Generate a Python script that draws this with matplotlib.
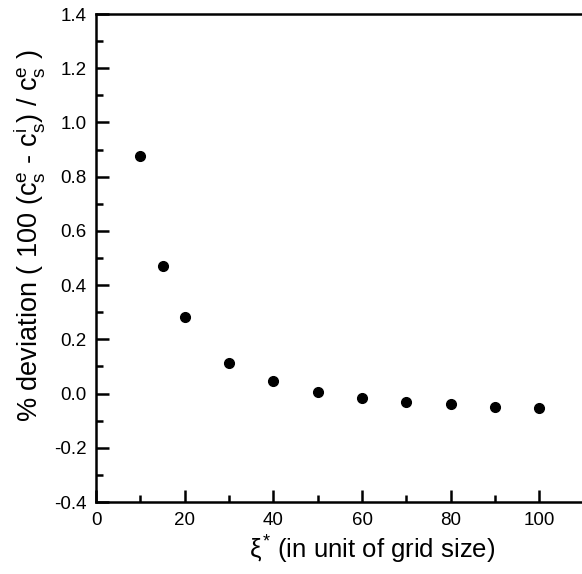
import matplotlib
matplotlib.use('Agg')
import matplotlib.pyplot as plt
from matplotlib.ticker import MultipleLocator

plt.rcParams['font.family'] = ['Liberation Sans', 'DejaVu Sans']
plt.rcParams['mathtext.fontset'] = 'custom'
plt.rcParams['mathtext.rm'] = 'Liberation Sans'
plt.rcParams['mathtext.it'] = 'Liberation Sans'
plt.rcParams['mathtext.bf'] = 'Liberation Sans:bold'

xi = [10, 15, 20, 30, 40, 50, 60, 70, 80, 90, 100]
deviation = [0.875, 0.469, 0.281, 0.114, 0.048, 0.007, -0.015, -0.030, -0.040, -0.048, -0.055]

fig = plt.figure(figsize=(5.82, 5.74), dpi=100)
ax = fig.add_axes([0.165, 0.1254, 0.838, 0.8502])

ax.plot(xi, deviation, 'o', color='black', markersize=7)

ax.set_xlim(0, 110)
ax.set_ylim(-0.4, 1.4)
ax.xaxis.set_major_locator(MultipleLocator(20))
ax.xaxis.set_minor_locator(MultipleLocator(10))
ax.yaxis.set_major_locator(MultipleLocator(0.2))
ax.yaxis.set_minor_locator(MultipleLocator(0.1))
ax.yaxis.set_major_formatter(plt.FuncFormatter(lambda v, p: '%.1f' % v))
ax.xaxis.set_major_formatter(plt.FuncFormatter(lambda v, p: '%d' % v if v <= 100 else ''))

ax.tick_params(which='major', direction='in', length=9, width=1.8, labelsize=13.5, pad=7)
ax.tick_params(which='minor', direction='in', length=5, width=1.8)
ax.tick_params(top=False, right=False, which='both')
for s in ax.spines.values():
    s.set_linewidth(1.8)
ax.spines['right'].set_visible(False)

ax.set_xlabel(r'$\xi^{*}$ (in unit of grid size)', fontsize=18.5)
ax.set_ylabel(r'% deviation ( 100 ($\mathrm{c_s^e}$ - $\mathrm{c_s^i}$) / $\mathrm{c_s^e}$ )',
              fontsize=19.5)
ax.xaxis.set_label_coords(0.566, -0.066)
ax.yaxis.set_label_coords(-0.10, 0.547)

fig.savefig('out.png', dpi=100)
